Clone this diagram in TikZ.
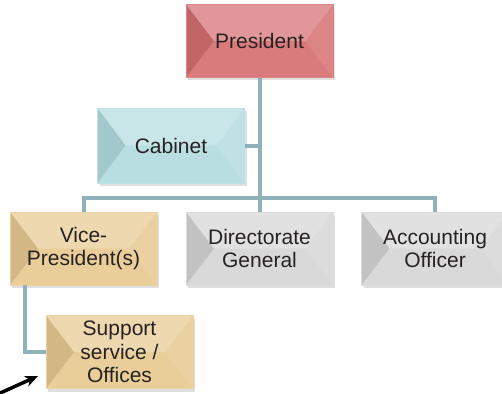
\documentclass[tikz,border=0pt]{standalone}
\usepackage{fontspec}
\setmainfont{Liberation Sans}
\usetikzlibrary{arrows.meta, calc, positioning, shadows}
\definecolor{presCol}{RGB}{214,112,114}
\definecolor{cabCol}{RGB}{180,220,224}
\definecolor{vpCol}{RGB}{232,202,146}
\definecolor{greyCol}{RGB}{214,214,214}
\definecolor{linkCol}{RGB}{143,177,185}
\definecolor{textCol}{RGB}{38,34,34}
\newcommand{\bevelFaces}{%
    \path (path picture bounding box.south west) coordinate (bsw)
          (path picture bounding box.north east) coordinate (bne)
          (bsw|-bne) coordinate (bnw)
          (bne|-bsw) coordinate (bse)
          ($(bsw)!0.5!(bnw)+(28,0)$) coordinate (bl)
          ($(bse)!0.5!(bne)+(-28,0)$) coordinate (br);
    \fill[white, opacity=0.28] (bnw) -- (bne) -- (br) -- (bl) -- cycle;
    \fill[black, opacity=0.09] (bnw) -- (bl) -- (bsw) -- cycle;
    \fill[white, opacity=0.15] (bne) -- (br) -- (bse) -- cycle;
    \fill[white, opacity=0.08] (bsw) -- (bl) -- (br) -- (bse) -- cycle;
}
\tikzset{
    orgBox/.style={rectangle, fill=#1, draw=#1!85!white, thin, minimum width=147pt, minimum height=73pt,
        inner sep=2pt, align=center, text=textCol, font=\fontsize{21}{23.5}\selectfont,
        drop shadow={opacity=0.25, shadow xshift=2pt, shadow yshift=-3pt},
        path picture={\bevelFaces}},
    orgLink/.style={draw=linkCol, line width=4pt},
    pointer/.style={-{Stealth[length=13pt, width=11pt]}, line width=3.5pt, black},
}
\newcommand{\drawLink}[2]{
    \draw[orgLink] (#1) -- (#2);
}

\begin{document}
\begin{tikzpicture}[x=1pt, y=-1pt]
        \useasboundingbox (0,0) rectangle (502,393);

        \node[orgBox=presCol] (Pres) at (259.5, 41) {President};
        \node[orgBox=cabCol, minimum height=75pt] (Cab) at (171, 145.5) {Cabinet};
        \node[orgBox=vpCol] (VP) at (83.5, 248.5) {Vice-\\President(s)};
        \node[orgBox=greyCol] (Dir) at (259.5, 248.5) {Directorate\\General};
        \node[orgBox=greyCol] (Acc) at (435, 248.5) {Accounting\\Officer};
        \node[orgBox=vpCol] (Sup) at (119.5, 352) {Support\\service /\\Offices};

        \coordinate (bus) at (259.5, 198);
        \coordinate (arrTail) at (-2, 394);
        \coordinate (arrTip) at (38, 376);

        \drawLink{Pres.south}{bus}
        \drawLink{Cab.east}{Cab.east -| Pres.south}
        \drawLink{bus}{Dir.north}
        \draw[orgLink] (VP.north) |- (bus) -| (Acc.north);
        \draw[orgLink] ([xshift=15]VP.south west) |- (Sup.west);
        \draw[pointer] (arrTail) -- (arrTip);

\end{tikzpicture}
\end{document}
